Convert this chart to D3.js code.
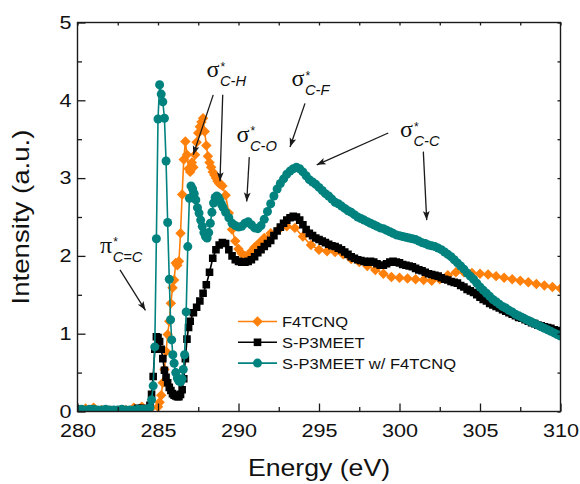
<!DOCTYPE html>
<html>
<head>
<meta charset="utf-8">
<script src="https://cdn.jsdelivr.net/npm/d3@7"></script>
<style>
  html, body { margin: 0; padding: 0; background: #fff; }
  svg { display: block; }
</style>
</head>
<body>
<svg id="chart" width="580" height="484"></svg>
<script>
// ---- Data -------------------------------------------------------------
const energyTicks = [280, 285, 290, 295, 300, 305, 310];
const energyMinorTicks = [282.5, 287.5, 292.5, 297.5, 302.5, 307.5];
const intensityTicks = [0, 1, 2, 3, 4, 5];
const intensityMinorTicks = [0.5, 1.5, 2.5, 3.5, 4.5];

const seriesNames = ["F4TCNQ", "S-P3MEET", "S-P3MEET w/ F4TCNQ"];
const seriesColors = ["#ff800a", "#000000", "#00827f"];

// [energy (eV), intensity (a.u.)]
const f4tcnq = [
  [280,0.01],[280.5,0.04],[281,0.05],[281.5,0.02],[282,0.01],[282.5,0.01],[283,0.02],[283.5,0.05],
  [284,0.06],[284.5,0.03],[285,0.06],[285.1,0.12],[285.2,0.21],[285.3,0.37],[285.4,0.54],[285.5,0.77],
  [285.6,0.99],[285.7,1.16],[285.8,1.39],[285.9,1.59],[286,1.69],[286.1,1.91],[286.2,1.88],[286.3,1.93],
  [286.4,2.29],[286.5,2.79],[286.6,3.24],[286.7,3.47],[286.8,3.30],[286.9,3.12],[287,3.08],[287.1,3.20],
  [287.2,3.14],[287.3,3.30],[287.4,3.46],[287.5,3.58],[287.6,3.66],[287.7,3.72],[287.8,3.77],[287.9,3.60],
  [288,3.42],[288.1,3.28],[288.2,3.20],[288.3,3.14],[288.4,3.08],[288.5,3.04],[288.6,3.00],[288.7,2.96],
  [288.8,2.93],[288.9,2.92],[289,2.90],[289.2,2.78],[289.4,2.55],[289.6,2.34],[289.8,2.19],[290,2.09],
  [290.2,2.03],[290.4,2.00],[290.6,2.01],[290.8,2.06],[291,2.11],[291.3,2.17],[291.6,2.23],[292,2.29],
  [292.5,2.34],[293,2.38],[293.5,2.36],[294,2.25],[294.5,2.14],[295,2.08],[295.5,2.06],[296,2.05],
  [296.5,2.02],[297,1.96],[297.5,1.92],[298,1.87],[298.5,1.82],[299,1.77],[299.5,1.73],[300,1.72],
  [300.5,1.71],[301,1.70],[301.5,1.69],[302,1.68],[302.5,1.70],[303,1.75],[303.5,1.79],[304,1.79],
  [304.5,1.78],[305,1.77],[305.5,1.76],[306,1.74],[306.5,1.72],[307,1.70],[307.5,1.68],[308,1.66],
  [308.5,1.64],[309,1.62],[309.5,1.60],[310,1.58]
];

const p3meet = [
  [280,0.02],[280.25,0.02],[280.5,0.01],[280.75,0.02],[281,0.02],[281.25,0.01],[281.5,0.01],[281.75,0.01],
  [282,0],[282.25,0],[282.5,-0.01],[282.75,-0.01],[283,-0.01],[283.25,0],[283.5,0.02],[283.75,0.04],
  [284,0.04],[284.25,0.02],[284.5,0.08],[284.6,0.22],[284.7,0.45],[284.8,0.80],[284.9,0.96],[285,0.95],
  [285.1,0.90],[285.2,0.80],[285.3,0.68],[285.4,0.53],[285.5,0.44],[285.6,0.37],[285.7,0.31],[285.8,0.27],
  [285.9,0.23],[286,0.21],[286.1,0.20],[286.2,0.19],[286.3,0.19],[286.4,0.22],[286.5,0.28],[286.6,0.42],
  [286.7,0.68],[286.8,0.93],[286.9,1.08],[287,1.16],[287.2,1.27],[287.4,1.34],[287.6,1.42],[287.8,1.52],
  [288,1.63],[288.2,1.79],[288.4,1.97],[288.6,2.08],[288.8,2.14],[289,2.17],[289.2,2.16],[289.4,2.08],
  [289.6,2.00],[289.8,1.95],[290,1.93],[290.2,1.92],[290.4,1.92],[290.6,1.93],[290.8,1.95],[291,1.99],
  [291.2,2.04],[291.4,2.08],[291.6,2.12],[291.8,2.16],[292,2.20],[292.2,2.26],[292.4,2.32],[292.6,2.37],
  [292.8,2.42],[293,2.46],[293.2,2.49],[293.4,2.51],[293.6,2.50],[293.8,2.46],[294,2.40],[294.2,2.34],
  [294.4,2.29],[294.6,2.26],[294.8,2.23],[295,2.21],[295.2,2.19],[295.4,2.17],[295.6,2.15],[295.8,2.13],
  [296,2.12],[296.2,2.10],[296.4,2.08],[296.6,2.05],[296.8,2.02],[297,1.99],[297.2,1.97],[297.4,1.95],
  [297.6,1.94],[297.8,1.93],[298,1.92],[298.2,1.93],[298.4,1.92],[298.6,1.90],[298.8,1.88],[299,1.88],
  [299.2,1.90],[299.4,1.92],[299.6,1.93],[299.8,1.92],[300,1.91],[300.2,1.89],[300.4,1.88],[300.6,1.87],
  [300.8,1.86],[301,1.84],[301.2,1.82],[301.4,1.81],[301.6,1.79],[301.8,1.77],[302,1.76],[302.2,1.75],
  [302.4,1.74],[302.6,1.72],[302.8,1.70],[303,1.69],[303.2,1.67],[303.4,1.66],[303.6,1.65],[303.8,1.62],
  [304,1.60],[304.2,1.57],[304.4,1.55],[304.6,1.53],[304.8,1.50],[305,1.47],[305.2,1.44],[305.4,1.42],
  [305.6,1.39],[305.8,1.37],[306,1.35],[306.2,1.33],[306.4,1.31],[306.6,1.29],[306.8,1.27],[307,1.25],
  [307.2,1.23],[307.4,1.21],[307.6,1.20],[307.8,1.18],[308,1.16],[308.2,1.14],[308.4,1.13],[308.6,1.11],
  [308.8,1.10],[309,1.09],[309.2,1.08],[309.4,1.07],[309.6,1.05],[309.8,1.04],[310,1.02]
];

const blend = [
  [280,0.03],[280.25,0.03],[280.5,0.02],[280.75,0.03],[281,0.03],[281.25,0.02],[281.5,0.02],[281.75,0.03],
  [282,0.02],[282.25,0.02],[282.5,0.02],[282.75,0.03],[283,0.02],[283.25,0.02],[283.5,0.02],[283.75,0.03],
  [284,0.03],[284.25,0.03],[284.5,0.05],[284.6,0.15],[284.7,0.33],[284.8,0.83],[284.9,2.22],[285,3.76],
  [285.1,4.20],[285.2,4.08],[285.3,3.98],[285.4,3.77],[285.5,3.22],[285.6,2.43],[285.7,1.70],[285.78,1.18],
  [285.85,0.92],[285.92,0.73],[286,0.62],[286.1,0.50],[286.2,0.43],[286.3,0.39],[286.4,0.38],[286.5,0.42],
  [286.57,0.54],[286.65,0.73],[286.75,1.28],[286.85,2.12],[286.95,2.74],[287.05,2.90],[287.15,2.86],[287.25,2.80],
  [287.35,2.72],[287.45,2.62],[287.55,2.55],[287.65,2.46],[287.75,2.38],[287.85,2.30],[287.95,2.25],[288.05,2.23],
  [288.15,2.30],[288.25,2.42],[288.35,2.56],[288.45,2.68],[288.55,2.75],[288.65,2.77],[288.75,2.75],[288.85,2.71],
  [288.95,2.66],[289.05,2.62],[289.2,2.56],[289.4,2.49],[289.6,2.42],[289.8,2.39],[290,2.37],[290.2,2.38],
  [290.4,2.42],[290.6,2.44],[290.8,2.40],[291,2.36],[291.2,2.35],[291.4,2.39],[291.6,2.47],[291.8,2.57],
  [292,2.67],[292.2,2.77],[292.4,2.86],[292.6,2.93],[292.8,2.99],[293,3.05],[293.2,3.09],[293.4,3.12],
  [293.6,3.14],[293.8,3.12],[294,3.08],[294.2,3.03],[294.4,2.98],[294.6,2.95],[294.8,2.92],[295,2.88],
  [295.2,2.84],[295.4,2.80],[295.6,2.77],[295.8,2.73],[296,2.69],[296.2,2.67],[296.4,2.64],[296.6,2.61],
  [296.8,2.58],[297,2.56],[297.2,2.53],[297.4,2.50],[297.6,2.48],[297.8,2.46],[298,2.44],[298.2,2.42],
  [298.4,2.40],[298.6,2.38],[298.8,2.36],[299,2.35],[299.2,2.33],[299.4,2.31],[299.6,2.29],[299.8,2.27],
  [300,2.26],[300.2,2.25],[300.4,2.24],[300.6,2.23],[300.8,2.22],[301,2.21],[301.2,2.19],[301.4,2.17],
  [301.6,2.16],[301.8,2.14],[302,2.13],[302.2,2.12],[302.4,2.10],[302.6,2.08],[302.8,2.05],[303,2.02],
  [303.2,1.99],[303.4,1.95],[303.6,1.91],[303.8,1.87],[304,1.83],[304.2,1.78],[304.4,1.74],[304.6,1.70],
  [304.8,1.65],[305,1.60],[305.2,1.56],[305.4,1.52],[305.6,1.48],[305.8,1.44],[306,1.41],[306.2,1.38],
  [306.4,1.35],[306.6,1.33],[306.8,1.30],[307,1.28],[307.2,1.25],[307.4,1.23],[307.6,1.21],[307.8,1.19],
  [308,1.17],[308.2,1.15],[308.4,1.13],[308.6,1.11],[308.8,1.09],[309,1.07],[309.2,1.05],[309.4,1.03],
  [309.6,1.01],[309.8,0.99],[310,0.97]
];

// Resonance labels (anchor in data units) and their pointer arrows [from, to]
const resonanceLabels = [
  { sym: "\u03C0", sub: "C=C", at: [281.40, 2.04] },
  { sym: "\u03C3", sub: "C-H", at: [288.01, 4.30] },
  { sym: "\u03C3", sub: "C-O", at: [289.88, 3.47] },
  { sym: "\u03C3", sub: "C-F", at: [293.29, 4.18] },
  { sym: "\u03C3", sub: "C-C", at: [300.03, 3.53] }
];
const resonanceArrows = [
  [[282.64, 1.82], [284.22, 1.30]],
  [[288.43, 4.07], [287.19, 3.30]],
  [[289.02, 4.07], [288.85, 2.96]],
  [[290.67, 3.27], [290.51, 2.70]],
  [[294.13, 3.96], [293.20, 3.40]],
  [[299.30, 3.58], [294.86, 3.17]],
  [[301.48, 3.34], [301.69, 2.46]]
];

// ---- Layout -----------------------------------------------------------
const svg = d3.select("#chart");
const W = 580, H = 484;
const plot = { left: 77.5, right: 560.5, top: 22.5, bottom: 411.5 };
const sans = "'Liberation Sans', Arial, Helvetica, sans-serif";
const serif = "'Liberation Serif', 'Times New Roman', serif";
const axisColor = "#1a1a1a";

// widen glyphs along the text direction
function stretchText(sel, k) {
  sel.each(function () {
    const len = this.getComputedTextLength();
    d3.select(this).attr("textLength", len * k).attr("lengthAdjust", "spacingAndGlyphs");
  });
}

const x = d3.scaleLinear().domain([280, 310]).range([plot.left, plot.right]);
const y = d3.scaleLinear().domain([0, 5]).range([plot.bottom, plot.top]);

svg.append("rect").attr("width", W).attr("height", H).attr("fill", "#fff");

const defs = svg.append("defs");
defs.append("clipPath").attr("id", "plotClip")
  .append("rect")
  .attr("x", plot.left).attr("y", plot.top)
  .attr("width", plot.right - plot.left).attr("height", plot.bottom - plot.top);

defs.append("marker")
  .attr("id", "arrowHead")
  .attr("markerUnits", "userSpaceOnUse")
  .attr("viewBox", "-10 -5 12 10")
  .attr("refX", 0).attr("refY", 0)
  .attr("markerWidth", 12).attr("markerHeight", 10)
  .attr("orient", "auto")
  .append("path")
  .attr("d", "M0,0 L-9,-3.4 L-7,0 L-9,3.4 Z")
  .attr("fill", "#1a1a1a");

// ---- Series -----------------------------------------------------------
const symbolCircle = d3.symbol(d3.symbolCircle, Math.PI * 4.5 * 4.5)();
const symbolSquare = d3.symbol(d3.symbolSquare, 7.6 * 7.6)();
const symbolDiamond = d3.symbol(d3.symbolSquare, 7.4 * 7.4)();
const seriesList = [
  { data: f4tcnq, color: seriesColors[0], path: symbolDiamond, rot: 45 },
  { data: p3meet, color: seriesColors[1], path: symbolSquare, rot: 0 },
  { data: blend,  color: seriesColors[2], path: symbolCircle, rot: 0 }
];

const line = d3.line().x(d => x(d[0])).y(d => y(d[1]));
const plotG = svg.append("g").attr("clip-path", "url(#plotClip)");

seriesList.forEach(s => {
  const g = plotG.append("g");
  g.append("path")
    .datum(s.data)
    .attr("d", line)
    .attr("fill", "none")
    .attr("stroke", s.color)
    .attr("stroke-width", 1.6);
  g.selectAll("path.pt")
    .data(s.data)
    .enter().append("path")
    .attr("class", "pt")
    .attr("d", s.path)
    .attr("transform", d => `translate(${x(d[0])},${y(d[1])}) rotate(${s.rot})`)
    .attr("fill", s.color);
});

// ---- Axes -------------------------------------------------------------
function styleAxis(g) {
  g.select(".domain").remove();
  g.selectAll(".tick line").attr("stroke", axisColor).attr("stroke-width", 1.3);
  g.selectAll(".tick text")
    .attr("fill", "#111")
    .attr("font-family", sans)
    .attr("font-size", 18)
    .call(stretchText, 1.2);
}

svg.append("g")
  .attr("transform", `translate(0,${plot.bottom})`)
  .call(d3.axisBottom(x).tickValues(energyTicks).tickFormat(d3.format("d"))
    .tickSizeInner(-8).tickSizeOuter(0).tickPadding(13))
  .call(styleAxis);
svg.append("g")
  .attr("transform", `translate(0,${plot.bottom})`)
  .call(d3.axisBottom(x).tickValues(energyMinorTicks).tickFormat("")
    .tickSizeInner(-4.5).tickSizeOuter(0))
  .call(styleAxis);
svg.append("g")
  .attr("transform", `translate(${plot.left},0)`)
  .call(d3.axisLeft(y).tickValues(intensityTicks).tickFormat(d3.format("d"))
    .tickSizeInner(-8).tickSizeOuter(0).tickPadding(6))
  .call(styleAxis);
svg.append("g")
  .attr("transform", `translate(${plot.left},0)`)
  .call(d3.axisLeft(y).tickValues(intensityMinorTicks).tickFormat("")
    .tickSizeInner(-4.5).tickSizeOuter(0))
  .call(styleAxis);
// mirrored ticks on top and right
svg.append("g")
  .attr("transform", `translate(0,${plot.top})`)
  .call(d3.axisTop(x).tickValues(energyTicks.concat(energyMinorTicks)).tickFormat("")
    .tickSizeInner(-3).tickSizeOuter(0))
  .call(styleAxis);
svg.append("g")
  .attr("transform", `translate(${plot.right},0)`)
  .call(d3.axisRight(y).tickValues(intensityTicks.concat(intensityMinorTicks)).tickFormat("")
    .tickSizeInner(-3).tickSizeOuter(0))
  .call(styleAxis);

svg.append("rect")
  .attr("x", plot.left).attr("y", plot.top)
  .attr("width", plot.right - plot.left).attr("height", plot.bottom - plot.top)
  .attr("fill", "none").attr("stroke", axisColor).attr("stroke-width", 1.4);

// axis titles
svg.append("text")
  .attr("x", (plot.left + plot.right) / 2).attr("y", 476)
  .attr("text-anchor", "middle")
  .attr("font-family", sans).attr("font-size", 24).attr("fill", "#111")
  .text("Energy (eV)")
  .call(stretchText, 1.11);
svg.append("text")
  .attr("transform", `translate(29,${(plot.top + plot.bottom) / 2}) rotate(-90)`)
  .attr("text-anchor", "middle")
  .attr("font-family", sans).attr("font-size", 24).attr("fill", "#111")
  .text("Intensity (a.u.)")
  .call(stretchText, 1.15);

// ---- Resonance labels ---------------------------------------------------
const labelG = svg.append("g");
resonanceLabels.forEach(l => {
  const lx = x(l.at[0]), ly = y(l.at[1]);
  const main = labelG.append("text")
    .attr("x", lx).attr("y", ly)
    .attr("font-family", serif).attr("font-size", 24).attr("fill", "#111")
    .text(l.sym);
  const w = main.node().getComputedTextLength();
  labelG.append("text")
    .attr("x", lx + w + 1).attr("y", ly - 6.3)
    .attr("font-family", sans).attr("font-size", 12).attr("fill", "#111")
    .text("*");
  labelG.append("text")
    .attr("x", lx + w + 0.5).attr("y", ly + 9)
    .attr("font-family", sans).attr("font-size", 14).attr("font-style", "italic").attr("fill", "#111")
    .text(l.sub)
    .call(stretchText, 1.05);
});

labelG.selectAll("line.arrow")
  .data(resonanceArrows)
  .enter().append("line")
  .attr("class", "arrow")
  .attr("x1", d => x(d[0][0])).attr("y1", d => y(d[0][1]))
  .attr("x2", d => x(d[1][0])).attr("y2", d => y(d[1][1]))
  .attr("stroke", "#1a1a1a").attr("stroke-width", 1.3)
  .attr("marker-end", "url(#arrowHead)");

// ---- Legend -------------------------------------------------------------
const legend = svg.append("g").attr("transform", "translate(238,321.5)");
seriesList.forEach((s, i) => {
  const row = legend.append("g").attr("transform", `translate(0,${i * 20.8})`);
  row.append("line")
    .attr("x1", 0).attr("x2", 39).attr("y1", 0).attr("y2", 0)
    .attr("stroke", s.color).attr("stroke-width", 1.6);
  row.append("path")
    .attr("d", s.path)
    .attr("transform", `translate(19.5,0) rotate(${s.rot})`)
    .attr("fill", s.color);
  row.append("text")
    .attr("x", 44).attr("y", 5.6)
    .attr("font-family", sans).attr("font-size", 15.5).attr("fill", "#111")
    .text(seriesNames[i])
    .call(stretchText, 1.065);
});
</script>
</body>
</html>
